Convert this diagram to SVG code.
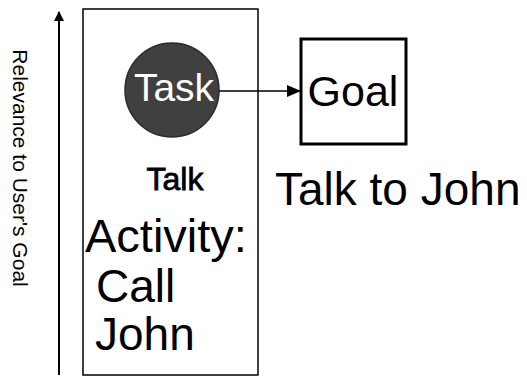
<svg xmlns="http://www.w3.org/2000/svg" width="527" height="378" viewBox="0 0 527 378">
<style>
text{font-family:"Liberation Sans",Arial,sans-serif;fill:#000}
.ln{stroke:#000;fill:none}
</style>
<defs>
<marker id="ah" markerWidth="10" markerHeight="10" refX="9" refY="5" orient="auto" markerUnits="userSpaceOnUse" viewBox="0 0 10 10"><path d="M0,0 L10,5 L0,10 z" fill="#000"/></marker>
<marker id="ah2" markerWidth="14" markerHeight="12" refX="13" refY="6" orient="auto" markerUnits="userSpaceOnUse" viewBox="0 0 14 12"><path d="M0,0 L14,6 L0,12 z" fill="#000"/></marker>
</defs>
<rect width="527" height="378" fill="#fff"/>
<g id="axis">
<line class="ln" x1="59" y1="375" x2="59" y2="12" stroke-width="2" marker-end="url(#ah)"/>
<text transform="translate(13,168) rotate(90)" text-anchor="middle" font-size="21">Relevance to User's Goal</text>
</g>
<g id="activity">
<rect x="83" y="9" width="175" height="366" class="ln" stroke-width="1.5" stroke="#222"/>
<text x="175" y="190" text-anchor="middle" font-size="32" style="stroke:#000;stroke-width:0.8">Talk</text>
<text x="85" y="252" font-size="47">Activity:</text>
<text x="96" y="302" font-size="46">Call</text>
<text x="95" y="350" font-size="46">John</text>
</g>
<g id="task">
<circle cx="172" cy="90" r="47" fill="#404040" stroke="#2a2a2a" stroke-width="1.5"/>
<text x="174" y="101" text-anchor="middle" font-size="39" style="fill:#fff">Task</text>
</g>
<g id="goal">
<rect x="301" y="39" width="105" height="105" class="ln" stroke-width="3"/>
<text x="353" y="106" text-anchor="middle" font-size="43">Goal</text>
<text x="275" y="205" font-size="46">Talk to John</text>
</g>
<g id="connectors">
<line class="ln" x1="219" y1="91" x2="300" y2="91" stroke-width="1.5" marker-end="url(#ah2)"/>
</g>
</svg>
